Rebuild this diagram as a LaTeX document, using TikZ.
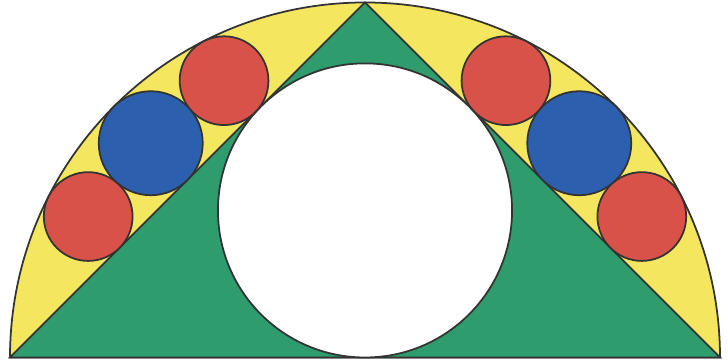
\documentclass[tikz,border=0pt]{standalone}
\usetikzlibrary{calc}
\definecolor{yel}{HTML}{F4E65E}
\definecolor{grn}{HTML}{2E9C6C}
\definecolor{rd}{HTML}{D8524A}
\definecolor{bl}{HTML}{2C60AE}
\begin{document}
\begin{tikzpicture}[x=1cm,y=1cm,
  edge/.style={draw=black!80,line width=0.5pt}]
\useasboundingbox (0,0) rectangle (7.28,3.62);
\def\R{3.55}
\coordinate (O) at (3.65,0.045);
% semicircle
\fill[yel,edge] ($(O)+(-\R,0)$) arc[start angle=180,end angle=0,radius=\R] -- cycle;
% triangle
\fill[grn,edge] ($(O)+(-\R,0)$) -- ($(O)+(0,\R)$) -- ($(O)+(\R,0)$) -- cycle;
% incircle
\fill[white,edge] ($(O)+(0,{0.41421*\R})$) circle[radius={0.41421*\R}];
% side circles (mirrored)
\foreach \s in {-1,1}{
  \fill[bl,edge] ($(O)+({\s*0.60355*\R},{0.60355*\R})$) circle[radius={0.14645*\R}];
  \fill[rd,edge] ($(O)+({\s*0.39705*\R},{0.77973*\R})$) circle[radius={0.125*\R}];
  \fill[rd,edge] ($(O)+({\s*0.77973*\R},{0.39705*\R})$) circle[radius={0.125*\R}];
}
\end{tikzpicture}
\end{document}
